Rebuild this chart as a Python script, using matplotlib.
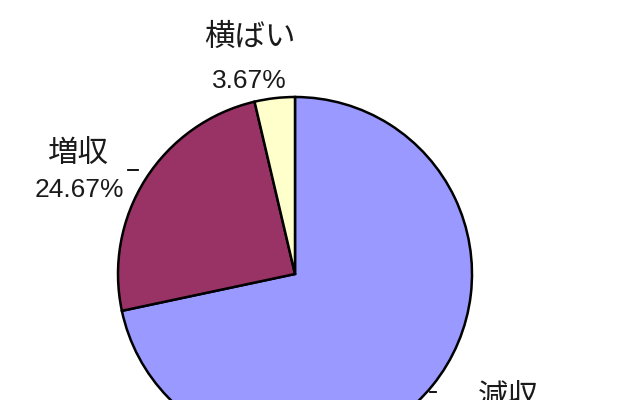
import matplotlib
matplotlib.use('Agg')
from matplotlib import pyplot as plt

plt.rcParams['font.family'] = ['Noto Sans CJK JP', 'DejaVu Sans']

labels = ['減収', '増収', '横ばい']
shares = [71.67, 24.67, 3.67]
colors = ['#9999FF', '#993366', '#FFFFCC']

# canvas in pixel units (y up), so the pie can run off the bottom like the original
W, H = 640, 400
center = (295, H - 274)
radius = 177

fig = plt.figure(figsize=(6.4, 4.0), dpi=100)
ax = fig.add_axes([0, 0, 1, 1])

ax.pie(shares, colors=colors, startangle=90, counterclock=False,
       center=center, radius=radius, frame=True,
       wedgeprops={'edgecolor': 'black', 'linewidth': 1.8})

ax.set_xlim(0, W)
ax.set_ylim(0, H)
ax.set_aspect('equal')
ax.axis('off')

# label positions (pixel coords, y from top)
label_pos = {'減収': (508, 398), '増収': (78, 153), '横ばい': (250, 37)}
pct_pos = {'減収': (508, 436), '増収': (79, 190), '横ばい': (249, 81)}

for name, val in zip(labels, shares):
    lx, ly = label_pos[name]
    px, py = pct_pos[name]
    ax.text(lx, H - ly, name, ha='center', va='center', fontsize=22,
            color='#1a1a1a')
    ax.text(px, H - py, f'{val:.2f}%', ha='center', va='center', fontsize=19,
            color='#1a1a1a', family=['Liberation Sans', 'DejaVu Sans'])

# small leader ticks
ax.plot([128, 138], [H - 170, H - 170], color='black', lw=1.3)
ax.plot([430, 436], [H - 392, H - 392], color='black', lw=1.3)

fig.savefig('out.png', dpi=100, facecolor='white')
